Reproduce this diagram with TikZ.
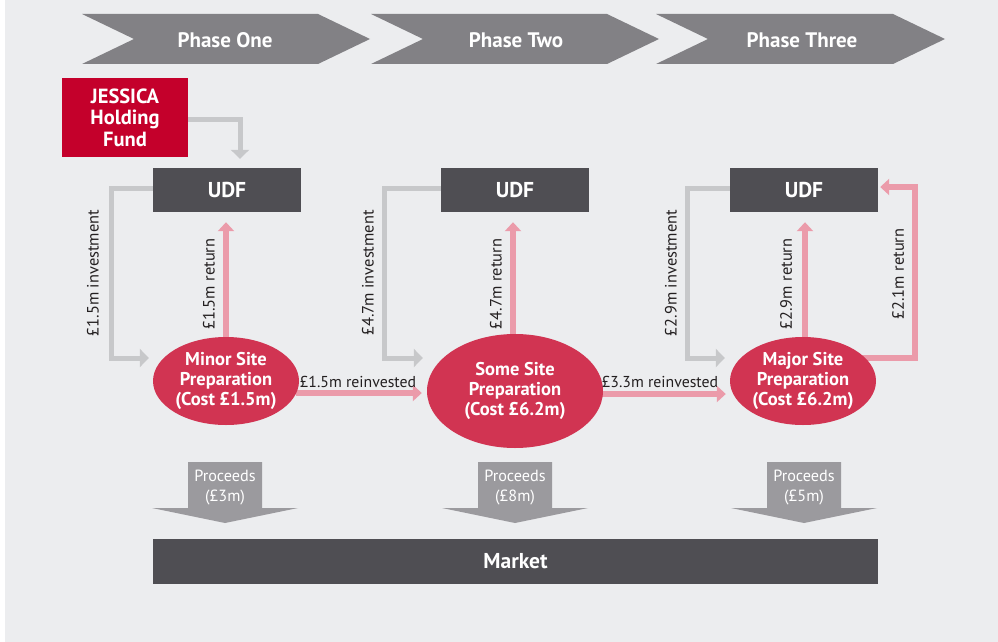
\documentclass[tikz,border=0pt]{standalone}
\usepackage{fontspec}
\setmainfont{PT Sans}
\usetikzlibrary{arrows.meta,shapes.geometric,calc}
\definecolor{bgc}{HTML}{ECEDEF}
\definecolor{chev}{HTML}{828185}
\definecolor{jred}{HTML}{C4002B}
\definecolor{udfc}{HTML}{4F4E53}
\definecolor{ellc}{HTML}{D13452}
\definecolor{parr}{HTML}{EB9BAA}
\definecolor{garr}{HTML}{C7C8CA}
\definecolor{procc}{HTML}{9B9A9E}
\definecolor{txt}{HTML}{231F20}
\pgfdeclarelayer{back}
\pgfdeclarelayer{conn}
\pgfsetlayers{back,conn,main}
\begin{document}
\begin{tikzpicture}[x=1pt,y=-1pt,
  chevtext/.style={text=white,font=\bfseries\fontsize{21}{23}\selectfont,inner sep=0pt},
  darkbox/.style={fill=udfc,text=white,font=\bfseries\fontsize{21.5}{23}\selectfont,minimum width=148pt,minimum height=44pt,inner sep=0pt},
  jbox/.style={fill=jred,text=white,font=\bfseries\fontsize{20.5}{21.5}\selectfont,minimum width=126pt,minimum height=79pt,inner sep=0pt,align=center},
  site/.style={ellipse,fill=ellc,text=white,font=\bfseries\fontsize{18.5}{20}\selectfont,align=center,inner xsep=-40pt,inner ysep=-20pt},
  grayarr/.style={draw=garr,line width=5pt,-{Triangle[width=18pt,length=9pt]}},
  pinkarr/.style={draw=parr,line width=5.5pt,-{Triangle[width=16pt,length=9pt]}},
  lbl/.style={text=txt,font=\fontsize{15.8}{17}\selectfont,inner sep=0pt},
  vlbl/.style={lbl,font=\fontsize{16.4}{17}\selectfont,rotate=90},
  proctext/.style={text=white,font=\fontsize{16.2}{20}\selectfont,align=center,inner sep=0pt}
]
\useasboundingbox (0,0) rectangle (998,642);
\begin{pgfonlayer}{back}
\fill[bgc] (5,0) rectangle (998,642);
\end{pgfonlayer}

% phase chevrons
\fill[chev] (82,14) -- (318,14) -- (370,39) -- (318,64) -- (82,64) -- (134,39) -- cycle;
\fill[chev] (371,14) -- (607,14) -- (659,39) -- (607,64) -- (371,64) -- (423,39) -- cycle;
\fill[chev] (656,14) -- (893,14) -- (945,39) -- (893,64) -- (656,64) -- (708,39) -- cycle;
\node[chevtext] (ph1) at (225,40) {Phase One};
\node[chevtext] (ph2) at (516,40) {Phase Two};
\node[chevtext] (ph3) at (802,40) {Phase Three};

% boxes
\node[jbox] (jf) at (125,117.5) {JESSICA\\Holding\\Fund};
\node[darkbox] (u1) at (227,190) {UDF};
\node[darkbox] (u2) at (515,190) {UDF};
\node[darkbox] (u3) at (804,190) {UDF};

% sites
\node[site,minimum width=146pt,minimum height=88pt] (e1) at (226,381) {Minor Site\\Preparation\\(Cost £1.5m)};
\node[site,minimum width=176pt,minimum height=114pt] (e2) at (515,391) {Some Site\\Preparation\\(Cost £6.2m)};
\node[site,minimum width=146pt,minimum height=88pt] (e3) at (803,381) {Major Site\\Preparation\\(Cost £6.2m)};

% market
\node[darkbox,minimum width=725pt,minimum height=45pt] (mk) at (515.5,561.5) {Market};

% proceeds
\foreach \cx/\n/\amt in {225/p1/3, 515/p2/8, 804/p3/5}{
  \fill[procc] (\cx-37,462) -- (\cx+37,462) -- (\cx+37,508) -- (\cx+73,508) -- (\cx,523) -- (\cx-73,508) -- (\cx-37,508) -- cycle;
  \node[proctext] (\n) at (\cx,488) {Proceeds\\(£\amt m)};
}

\begin{pgfonlayer}{conn}
% holding fund to UDF
\draw[grayarr] ([yshift=-1.5pt]jf.east) -| ([xshift=13pt,yshift=9pt]u1.north);
% investments
\draw[grayarr] ([yshift=2pt]u1.west) -- ++(-41,0) |- ([xshift=-4pt,yshift=23pt]e1.west);
\draw[grayarr] ([yshift=2pt]u2.west) -- ++(-56,0) |- ([xshift=-4pt,yshift=33pt]e2.west);
\draw[grayarr] ([yshift=2pt]u3.west) -- ++(-42,0) |- ([xshift=-5pt,yshift=23pt]e3.west);
% returns
\draw[pinkarr] ([yshift=-2pt]e1.north) -- ([yshift=-10pt]u1.south -| e1.north);
\draw[pinkarr] ([xshift=-2pt,yshift=-2pt]e2.north) -- ([xshift=-2pt,yshift=-10pt]u2.south -| e2.north);
\draw[pinkarr] ([xshift=2pt,yshift=-2pt]e3.north) -- ([xshift=2pt,yshift=-10pt]u3.south -| e3.north);
\draw[pinkarr] ([xshift=-15pt,yshift=23pt]e3.east) -- ++(54,0) |- ([xshift=2pt,yshift=3pt]u3.east);
% reinvest
\draw[pinkarr] ([xshift=-3pt,yshift=-12pt]e1.east) -- ([xshift=-5pt,yshift=-12pt]e1.east -| e2.west);
\draw[pinkarr] ([xshift=-3pt,yshift=-3pt]e2.east) -- ([xshift=-4pt,yshift=-3pt]e2.east -| e3.west);
\end{pgfonlayer}

% labels
\node[vlbl] (l1) at (93,273) {£1.5m investment};
\node[vlbl] (l2) at (368,273) {£4.7m investment};
\node[vlbl] (l3) at (671,273) {£2.9m investment};
\node[vlbl] (r1) at (209,284) {£1.5m return};
\node[vlbl] (r2) at (496,284) {£4.7m return};
\node[vlbl] (r3) at (786,284) {£2.9m return};
\node[vlbl] (r4) at (898,274) {£2.1m return};
\node[lbl] (m1) at (358,382) {£1.5m reinvested};
\node[lbl] (m2) at (660,382) {£3.3m reinvested};
\end{tikzpicture}
\end{document}
